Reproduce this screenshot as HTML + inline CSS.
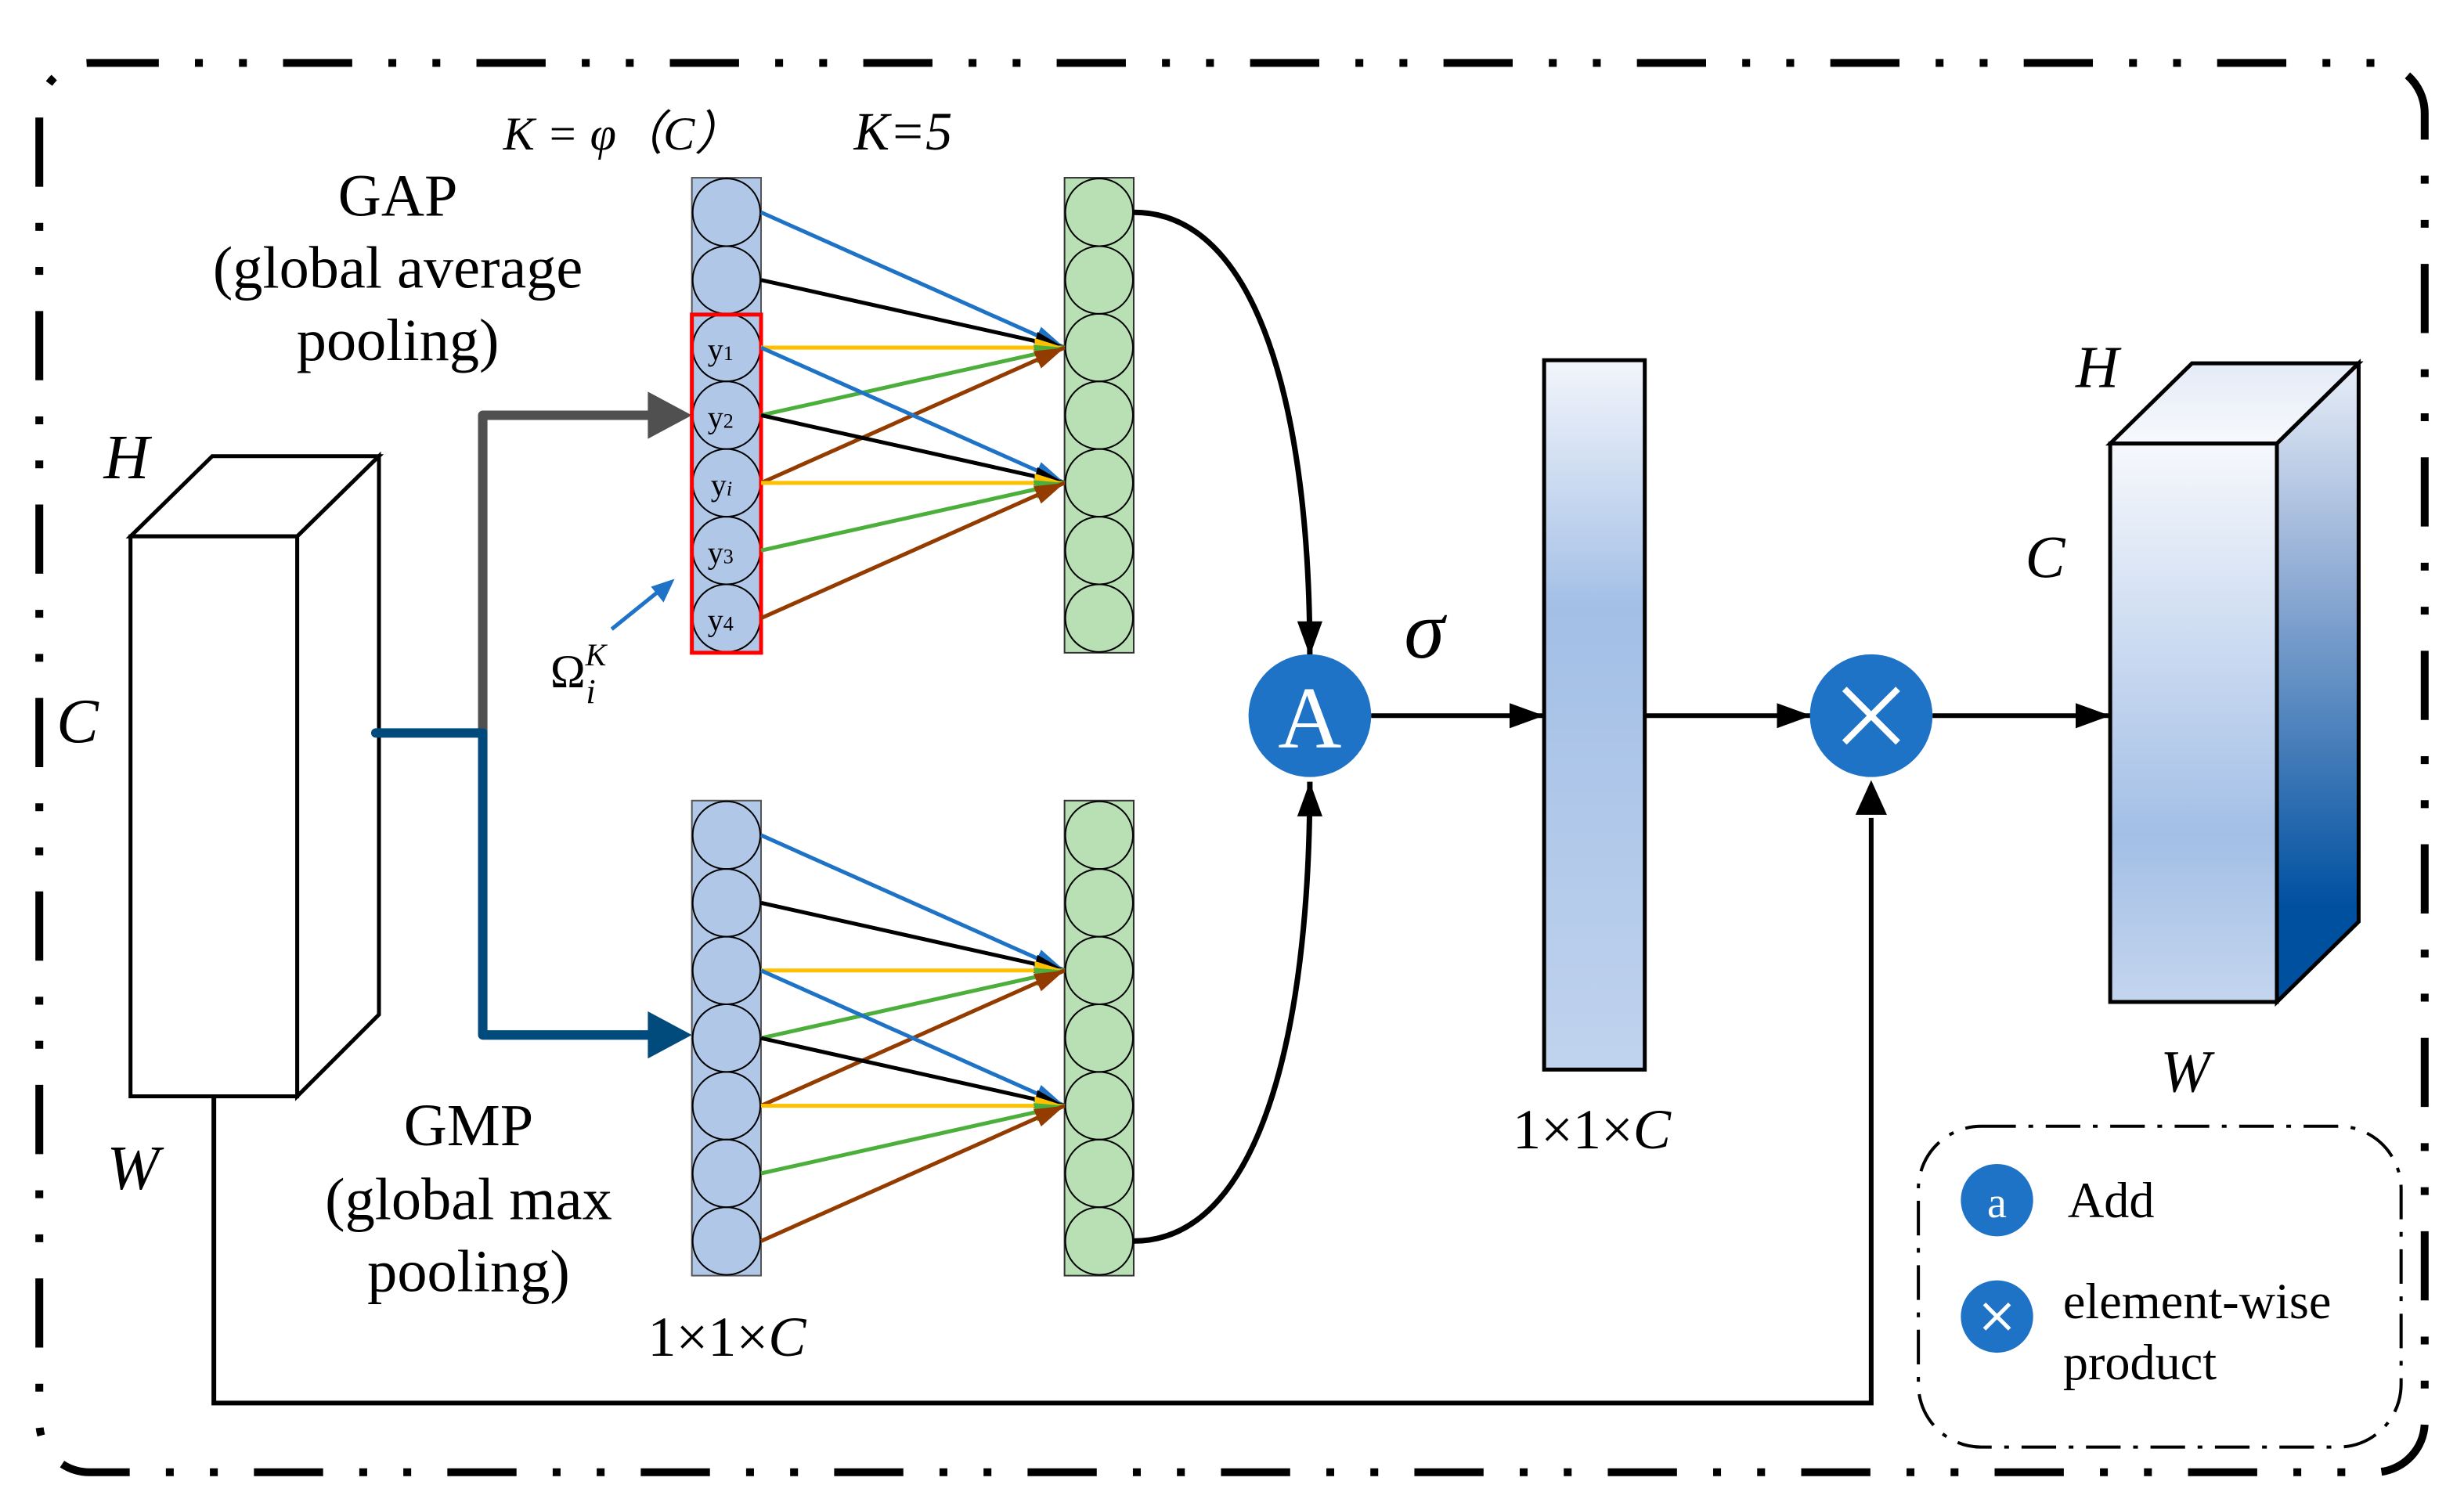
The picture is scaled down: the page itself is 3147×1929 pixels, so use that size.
<!DOCTYPE html>
<html><head><meta charset="utf-8"><style>
html,body{margin:0;padding:0;background:#fff;}
svg{display:block;}
text{font-family:"Liberation Serif",serif;}
</style></head><body>
<svg width="3147" height="1929" viewBox="0 0 1567 960" preserveAspectRatio="none" xmlns="http://www.w3.org/2000/svg">
<defs>
<marker id="mk" markerUnits="userSpaceOnUse" markerWidth="24" markerHeight="20" refX="22" refY="10" orient="auto"><path d="M0,2 L22,10 L0,18 Z" fill="#000"/></marker>
<marker id="mbl" markerUnits="userSpaceOnUse" markerWidth="20" markerHeight="16" refX="19" refY="8" orient="auto"><path d="M0,2 L19,8 L0,14 Z" fill="#1f73c6"/></marker>
<marker id="mblk" markerUnits="userSpaceOnUse" markerWidth="20" markerHeight="16" refX="19" refY="8" orient="auto"><path d="M0,2 L19,8 L0,14 Z" fill="#000"/></marker>
<marker id="my" markerUnits="userSpaceOnUse" markerWidth="20" markerHeight="16" refX="19" refY="8" orient="auto"><path d="M0,2 L19,8 L0,14 Z" fill="#ffc000"/></marker>
<marker id="mg" markerUnits="userSpaceOnUse" markerWidth="20" markerHeight="16" refX="19" refY="8" orient="auto"><path d="M0,2 L19,8 L0,14 Z" fill="#4caf3c"/></marker>
<marker id="mbr" markerUnits="userSpaceOnUse" markerWidth="20" markerHeight="16" refX="19" refY="8" orient="auto"><path d="M0,2 L19,8 L0,14 Z" fill="#943b00"/></marker>
<linearGradient id="bar" x1="0" y1="0" x2="0" y2="1">
<stop offset="0" stop-color="#f2f5fb"/><stop offset="0.35" stop-color="#a3bfe6"/><stop offset="1" stop-color="#c0d3ee"/></linearGradient>
<linearGradient id="front" x1="0" y1="0" x2="0" y2="1">
<stop offset="0" stop-color="#f6f8fc"/><stop offset="0.7" stop-color="#a3bfe6"/><stop offset="1" stop-color="#c4d5ee"/></linearGradient>
<linearGradient id="side" x1="0" y1="0" x2="0" y2="1">
<stop offset="0" stop-color="#e8eef8"/><stop offset="0.3" stop-color="#9ab3d8"/><stop offset="0.85" stop-color="#0050a0"/><stop offset="1" stop-color="#0050a0"/></linearGradient>
<linearGradient id="top" x1="0" y1="0" x2="0" y2="1">
<stop offset="0" stop-color="#e4ebf6"/><stop offset="1" stop-color="#f7f9fd"/></linearGradient>
</defs>

<rect x="25" y="40" width="1517" height="896" rx="32" fill="none" stroke="#000" stroke-width="5" stroke-dasharray="44 23 5 23 5 23"/>

<g fill="#fff" stroke="#000" stroke-width="2.5">
<polygon points="83,341 135,290 241,290 189,341"/>
<polygon points="189,341 241,290 241,645 189,697"/>
<rect x="83" y="341" width="106" height="356"/>
</g>
<text x="66" y="304" font-size="40" font-style="italic">H</text>
<text x="36" y="472" font-size="40" font-style="italic">C</text>
<text x="68" y="756" font-size="40" font-style="italic">W</text>

<path d="M307,466 V264 H414" fill="none" stroke="#505050" stroke-width="6" stroke-linejoin="round"/>
<polygon points="412,249 440,264 412,279" fill="#505050"/>
<path d="M239,466 H307 V658 H414" fill="none" stroke="#004a7c" stroke-width="6" stroke-linejoin="round" stroke-linecap="round"/>
<polygon points="412,643 440,658 412,673" fill="#004a7c"/>

<rect x="440" y="113" width="44" height="302" fill="#b0c7e8" stroke="#555" stroke-width="1"/>
<g fill="none" stroke="#000" stroke-width="1">
<ellipse cx="462" cy="135" rx="21.5" ry="21.5"/><ellipse cx="462" cy="178" rx="21.5" ry="21.5"/>
<ellipse cx="462" cy="221" rx="21.5" ry="21.5"/><ellipse cx="462" cy="264" rx="21.5" ry="21.5"/>
<ellipse cx="462" cy="307" rx="21.5" ry="21.5"/><ellipse cx="462" cy="350" rx="21.5" ry="21.5"/>
<ellipse cx="462" cy="393" rx="21.5" ry="21.5"/>
</g>
<rect x="440" y="200" width="44" height="215" fill="none" stroke="#f00" stroke-width="2.5"/>
<g font-size="20">
<text x="450" y="229">y<tspan font-size="13">1</tspan></text>
<text x="450" y="272">y<tspan font-size="13">2</tspan></text>
<text x="452" y="315">y<tspan font-size="13" font-style="italic">i</tspan></text>
<text x="450" y="358">y<tspan font-size="13">3</tspan></text>
<text x="450" y="401">y<tspan font-size="13">4</tspan></text>
</g>
<rect x="677" y="113" width="44" height="302" fill="#b9e0b4" stroke="#333" stroke-width="1"/>
<g fill="none" stroke="#000" stroke-width="1">
<ellipse cx="699" cy="135" rx="21.5" ry="21.5"/><ellipse cx="699" cy="178" rx="21.5" ry="21.5"/>
<ellipse cx="699" cy="221" rx="21.5" ry="21.5"/><ellipse cx="699" cy="264" rx="21.5" ry="21.5"/>
<ellipse cx="699" cy="307" rx="21.5" ry="21.5"/><ellipse cx="699" cy="350" rx="21.5" ry="21.5"/>
<ellipse cx="699" cy="393" rx="21.5" ry="21.5"/>
</g>
<g stroke-width="2.5">
<line x1="484" y1="135" x2="677" y2="221" stroke="#1f73c6" marker-end="url(#mbl)"/>
<line x1="484" y1="178" x2="677" y2="221" stroke="#000" marker-end="url(#mblk)"/>
<line x1="484" y1="221" x2="677" y2="221" stroke="#ffc000" marker-end="url(#my)"/>
<line x1="484" y1="264" x2="677" y2="221" stroke="#4caf3c" marker-end="url(#mg)"/>
<line x1="484" y1="307" x2="677" y2="221" stroke="#943b00" marker-end="url(#mbr)"/>
<line x1="484" y1="221" x2="677" y2="307" stroke="#1f73c6" marker-end="url(#mbl)"/>
<line x1="484" y1="264" x2="677" y2="307" stroke="#000" marker-end="url(#mblk)"/>
<line x1="484" y1="307" x2="677" y2="307" stroke="#ffc000" marker-end="url(#my)"/>
<line x1="484" y1="350" x2="677" y2="307" stroke="#4caf3c" marker-end="url(#mg)"/>
<line x1="484" y1="393" x2="677" y2="307" stroke="#943b00" marker-end="url(#mbr)"/>
</g>

<rect x="440" y="509" width="44" height="302" fill="#b0c7e8" stroke="#555" stroke-width="1"/>
<g fill="none" stroke="#000" stroke-width="1">
<ellipse cx="462" cy="531" rx="21.5" ry="21.5"/><ellipse cx="462" cy="574" rx="21.5" ry="21.5"/>
<ellipse cx="462" cy="617" rx="21.5" ry="21.5"/><ellipse cx="462" cy="660" rx="21.5" ry="21.5"/>
<ellipse cx="462" cy="703" rx="21.5" ry="21.5"/><ellipse cx="462" cy="746" rx="21.5" ry="21.5"/>
<ellipse cx="462" cy="789" rx="21.5" ry="21.5"/>
</g>
<rect x="677" y="509" width="44" height="302" fill="#b9e0b4" stroke="#333" stroke-width="1"/>
<g fill="none" stroke="#000" stroke-width="1">
<ellipse cx="699" cy="531" rx="21.5" ry="21.5"/><ellipse cx="699" cy="574" rx="21.5" ry="21.5"/>
<ellipse cx="699" cy="617" rx="21.5" ry="21.5"/><ellipse cx="699" cy="660" rx="21.5" ry="21.5"/>
<ellipse cx="699" cy="703" rx="21.5" ry="21.5"/><ellipse cx="699" cy="746" rx="21.5" ry="21.5"/>
<ellipse cx="699" cy="789" rx="21.5" ry="21.5"/>
</g>
<g stroke-width="2.5">
<line x1="484" y1="531" x2="677" y2="617" stroke="#1f73c6" marker-end="url(#mbl)"/>
<line x1="484" y1="574" x2="677" y2="617" stroke="#000" marker-end="url(#mblk)"/>
<line x1="484" y1="617" x2="677" y2="617" stroke="#ffc000" marker-end="url(#my)"/>
<line x1="484" y1="660" x2="677" y2="617" stroke="#4caf3c" marker-end="url(#mg)"/>
<line x1="484" y1="703" x2="677" y2="617" stroke="#943b00" marker-end="url(#mbr)"/>
<line x1="484" y1="617" x2="677" y2="703" stroke="#1f73c6" marker-end="url(#mbl)"/>
<line x1="484" y1="660" x2="677" y2="703" stroke="#000" marker-end="url(#mblk)"/>
<line x1="484" y1="703" x2="677" y2="703" stroke="#ffc000" marker-end="url(#my)"/>
<line x1="484" y1="746" x2="677" y2="703" stroke="#4caf3c" marker-end="url(#mg)"/>
<line x1="484" y1="789" x2="677" y2="703" stroke="#943b00" marker-end="url(#mbr)"/>
</g>

<path d="M721,135 C800,135 833,260 833,417" fill="none" stroke="#000" stroke-width="3.5" marker-end="url(#mk)"/>
<path d="M721,789 C800,789 833,660 833,497" fill="none" stroke="#000" stroke-width="3.5" marker-end="url(#mk)"/>
<circle cx="833" cy="455" r="39" fill="#1f73c6"/>
<text x="833" y="475" font-size="56" fill="#fff" text-anchor="middle">A</text>
<text x="893" y="418" font-size="52" font-style="italic">σ</text>

<line x1="872" y1="455" x2="982" y2="455" stroke="#000" stroke-width="3" marker-end="url(#mk)"/>
<rect x="982" y="229" width="64" height="451" fill="url(#bar)" stroke="#000" stroke-width="2.5"/>
<text x="962" y="730" font-size="36">1×1×<tspan font-style="italic">C</tspan></text>
<line x1="1046" y1="455" x2="1152" y2="455" stroke="#000" stroke-width="3" marker-end="url(#mk)"/>
<circle cx="1190" cy="455" r="39" fill="#1f73c6"/>
<path d="M1173,438 L1207,472 M1207,438 L1173,472" stroke="#fff" stroke-width="4"/>
<line x1="1229" y1="455" x2="1342" y2="455" stroke="#000" stroke-width="3" marker-end="url(#mk)"/>

<path d="M136,697 V892 H1190 V520" fill="none" stroke="#000" stroke-width="3"/>
<polygon points="1180,518 1190,496 1200,518" fill="#000"/>

<g stroke="#000" stroke-width="2.5">
<polygon points="1342,282 1394,231 1500,231 1448,282" fill="url(#top)"/>
<polygon points="1448,282 1500,231 1500,586 1448,637" fill="url(#side)"/>
<rect x="1342" y="282" width="106" height="355" fill="url(#front)"/>
</g>
<text x="1320" y="246" font-size="38" font-style="italic">H</text>
<text x="1288" y="367" font-size="38" font-style="italic">C</text>
<text x="1374" y="694" font-size="38" font-style="italic">W</text>

<g font-size="38" text-anchor="middle">
<text x="253" y="137">GAP</text>
<text x="253" y="183">(global average</text>
<text x="253" y="229">pooling)</text>
<text x="298" y="728">GMP</text>
<text x="298" y="775">(global max</text>
<text x="298" y="821">pooling)</text>
</g>
<text x="412" y="862" font-size="36">1×1×<tspan font-style="italic">C</tspan></text>
<text x="320" y="95" font-size="30" font-style="italic">K = φ（C）</text>
<text x="543" y="95" font-size="34" font-style="italic">K=5</text>
<text x="350" y="437" font-size="30">Ω<tspan font-style="italic" font-size="20" dy="-14">K</tspan><tspan font-style="italic" font-size="22" dx="-13" dy="24">i</tspan></text>
<line x1="389" y1="400" x2="420" y2="375" stroke="#1f73c6" stroke-width="2.5"/>
<polygon points="429,368 414,373 422,383" fill="#1f73c6"/>

<rect x="1220" y="716" width="307" height="204" rx="40" fill="none" stroke="#000" stroke-width="2" stroke-dasharray="22 8 3 8"/>
<circle cx="1270" cy="763" r="23" fill="#1f73c6"/>
<text x="1270" y="774" font-size="28" fill="#fff" text-anchor="middle">a</text>
<text x="1315" y="774" font-size="32">Add</text>
<circle cx="1270" cy="837" r="23" fill="#1f73c6"/>
<path d="M1262,829 L1278,845 M1278,829 L1262,845" stroke="#fff" stroke-width="2.5"/>
<text x="1312" y="838" font-size="32">element-wise</text>
<text x="1312" y="877" font-size="32">product</text>
</svg>
</body></html>
